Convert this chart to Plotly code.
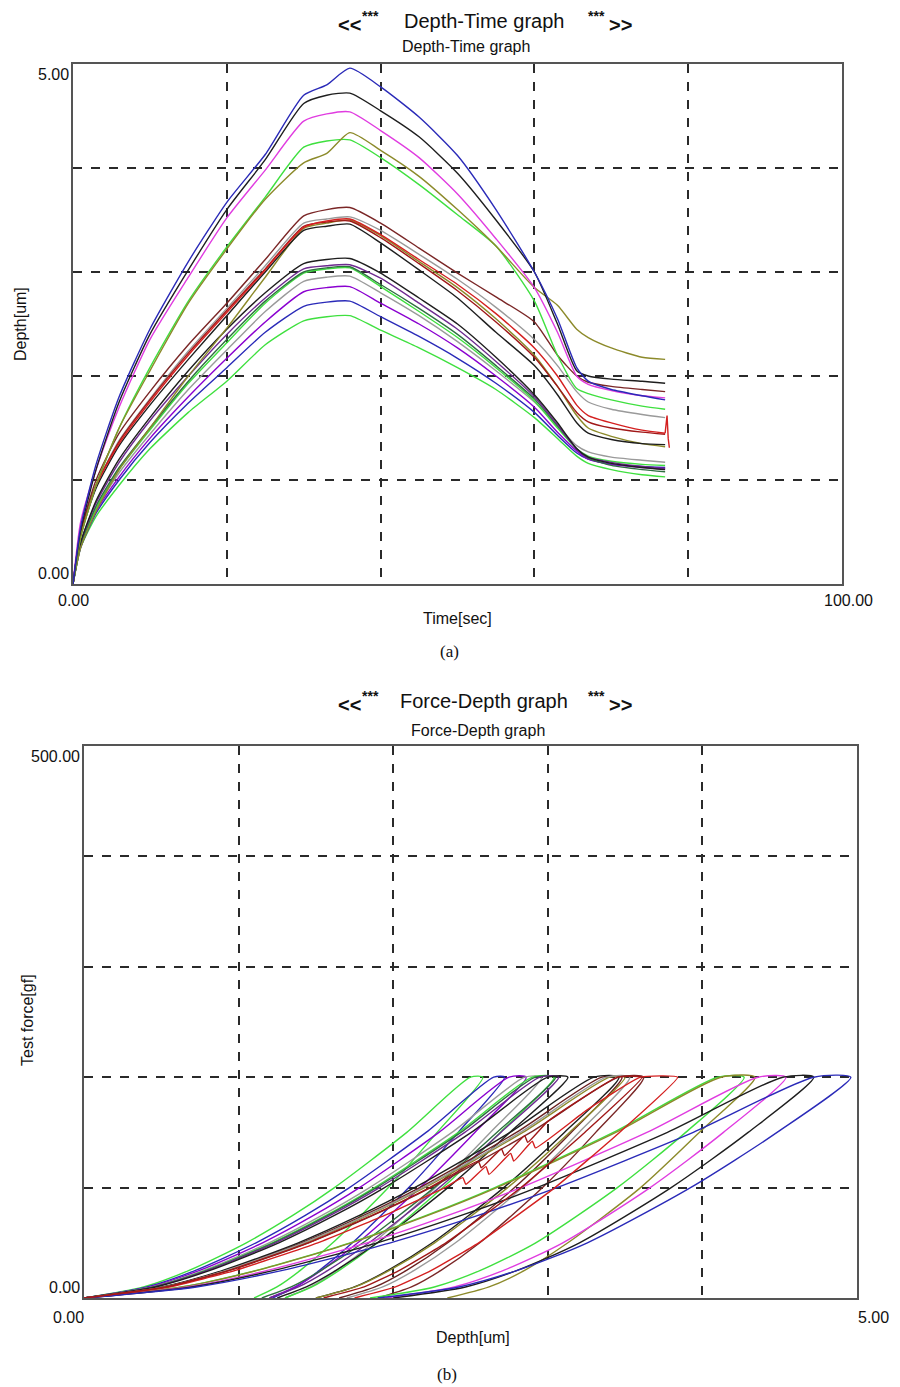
import plotly.graph_objects as go

W, H = 900, 1387

# ---------------- Panel (a): Depth-Time ----------------
TIME_A = [0, 1, 3, 6, 10, 15, 20, 25, 30, 33, 36, 40, 45, 50, 55, 60, 63, 65.5, 67, 70, 74, 77]

a_blue = [0, 0.55, 1.15, 1.8, 2.45, 3.1, 3.67, 4.13, 4.7, 4.8, 4.96, 4.78, 4.49, 4.12, 3.6, 3.0, 2.55, 2.08, 1.95, 1.87, 1.81, 1.77]
a_black = [0, 0.52, 1.1, 1.75, 2.4, 3.02, 3.6, 4.08, 4.62, 4.7, 4.72, 4.55, 4.3, 3.95, 3.5, 3.0, 2.5, 2.05, 2.0, 1.97, 1.95, 1.93]
a_magenta = [0, 0.6, 1.1, 1.7, 2.35, 2.95, 3.52, 3.98, 4.45, 4.52, 4.54, 4.36, 4.1, 3.75, 3.32, 2.85, 2.42, 2.0, 1.92, 1.86, 1.81, 1.79]
a_olive = [0, 0.45, 0.95, 1.5, 2.05, 2.7, 3.22, 3.7, 4.05, 4.14, 4.34, 4.17, 3.92, 3.6, 3.25, 2.85, 2.68, 2.45, 2.37, 2.27, 2.18, 2.16]
a_green = [0, 0.45, 0.95, 1.5, 2.08, 2.72, 3.24, 3.72, 4.2, 4.26, 4.27, 4.1, 3.84, 3.55, 3.25, 2.72, 2.2, 1.88, 1.83, 1.77, 1.71, 1.68]
a_brown = [0, 0.5, 1.0, 1.45, 1.85, 2.3, 2.7, 3.12, 3.54, 3.6, 3.62, 3.47, 3.23, 2.99, 2.76, 2.52, 2.2, 2.0, 1.94, 1.9, 1.87, 1.85]
a_red = [0, 0.5, 0.95, 1.35, 1.75, 2.2, 2.61, 3.02, 3.43, 3.49, 3.51, 3.36, 3.12, 2.88, 2.6, 2.27, 2.0, 1.72, 1.62, 1.55, 1.48, 1.45]
a_darkred = [0, 0.5, 0.95, 1.37, 1.77, 2.22, 2.63, 3.03, 3.44, 3.48, 3.49, 3.33, 3.08, 2.82, 2.52, 2.18, 1.9, 1.65, 1.56, 1.5, 1.46, 1.44]
a_gray = [0, 0.48, 0.95, 1.38, 1.78, 2.24, 2.65, 3.06, 3.47, 3.51, 3.53, 3.4, 3.17, 2.93, 2.66, 2.35, 2.1, 1.85, 1.75, 1.68, 1.63, 1.6]
a_black2 = [0, 0.47, 0.92, 1.33, 1.72, 2.16, 2.58, 3.0, 3.4, 3.44, 3.46, 3.28, 3.02, 2.75, 2.42, 2.1, 1.82, 1.55, 1.45, 1.39, 1.35, 1.34]
a_olive2 = [0, 0.35, 0.7, 1.1, 1.5, 2.0, 2.46, 2.95, 3.42, 3.47, 3.5, 3.35, 3.1, 2.85, 2.55, 2.2, 1.9, 1.62, 1.5, 1.42, 1.35, 1.32]
a_black3 = [0, 0.4, 0.8, 1.2, 1.6, 2.05, 2.45, 2.8, 3.08, 3.12, 3.13, 2.99, 2.75, 2.5, 2.18, 1.82, 1.55, 1.3, 1.22, 1.16, 1.12, 1.10]
a_purple_dk = [0, 0.4, 0.78, 1.17, 1.57, 2.0, 2.4, 2.75, 3.03, 3.06, 3.07, 2.94, 2.7, 2.45, 2.14, 1.8, 1.53, 1.3, 1.22, 1.17, 1.13, 1.11]
a_green_dk = [0, 0.38, 0.75, 1.12, 1.5, 1.95, 2.35, 2.72, 3.0, 3.04, 3.05, 2.88, 2.65, 2.4, 2.1, 1.78, 1.52, 1.3, 1.21, 1.14, 1.1, 1.08]
a_green3 = [0, 0.37, 0.73, 1.1, 1.48, 1.93, 2.32, 2.7, 2.99, 3.03, 3.04, 2.86, 2.62, 2.37, 2.08, 1.76, 1.5, 1.3, 1.23, 1.18, 1.15, 1.14]
a_gray3 = [0, 0.37, 0.72, 1.07, 1.44, 1.87, 2.25, 2.62, 2.91, 2.95, 2.96, 2.8, 2.58, 2.33, 2.05, 1.75, 1.52, 1.33, 1.27, 1.22, 1.19, 1.17]
a_violet = [0, 0.36, 0.7, 1.03, 1.4, 1.8, 2.17, 2.52, 2.81, 2.85, 2.86, 2.7, 2.5, 2.27, 2.0, 1.7, 1.46, 1.28, 1.2, 1.15, 1.12, 1.11]
a_blue3 = [0, 0.35, 0.68, 1.0, 1.36, 1.74, 2.08, 2.42, 2.67, 2.71, 2.72, 2.57, 2.38, 2.17, 1.93, 1.65, 1.43, 1.26, 1.2, 1.15, 1.13, 1.12]
a_green_low = [0, 0.35, 0.65, 0.95, 1.3, 1.65, 1.95, 2.3, 2.53, 2.57, 2.58, 2.44, 2.27, 2.08, 1.87, 1.6, 1.4, 1.23, 1.16, 1.1, 1.05, 1.03]

# red end spike
a_red_tail_t = [77, 77.25, 77.4, 77.55]
a_red_tail_d = [1.45, 1.62, 1.4, 1.31]

# ---------------- Panel (b): Force-Depth ----------------
LOAD_F = [0, 10, 25, 50, 75, 100, 150, 200]
UNLOAD_F = [200, 150, 100, 50, 25, 10, 0]

b_blue_load = [0, 0.727, 1.284, 1.982, 2.554, 3.059, 3.941, 4.72]
b_blue_unload = [4.96, 4.483, 3.923, 3.256, 2.803, 2.426, 1.9]
b_black_load = [0, 0.696, 1.229, 1.898, 2.445, 2.929, 3.774, 4.52]
b_black_unload = [4.72, 4.296, 3.798, 3.205, 2.802, 2.468, 2.0]
b_magenta_load = [0, 0.671, 1.186, 1.831, 2.359, 2.825, 3.641, 4.36]
b_magenta_unload = [4.54, 4.136, 3.662, 3.097, 2.714, 2.395, 1.95]
b_olive_load = [0, 0.634, 1.121, 1.73, 2.229, 2.67, 3.44, 4.12]
b_olive_unload = [4.34, 3.98, 3.6, 3.13, 2.85, 2.62, 2.35]
b_green_load = [0, 0.631, 1.115, 1.722, 2.218, 2.657, 3.424, 4.1]
b_green_unload = [4.27, 3.892, 3.45, 2.922, 2.564, 2.266, 1.85]
b_brown_load = [0, 0.533, 0.941, 1.453, 1.872, 2.242, 2.889, 3.46]
b_brown_unload = [3.62, 3.31, 2.966, 2.56, 2.309, 2.118, 1.9]
b_gray_load = [0, 0.521, 0.919, 1.42, 1.829, 2.19, 2.822, 3.38]
b_gray_unload = [3.53, 3.201, 2.835, 2.403, 2.136, 1.932, 1.7]
b_olive2_load = [0, 0.524, 0.925, 1.428, 1.839, 2.203, 2.839, 3.4]
b_olive2_unload = [3.5, 3.14, 2.74, 2.268, 1.976, 1.754, 1.5]
b_black2_load = [0, 0.508, 0.898, 1.386, 1.785, 2.138, 2.756, 3.3]
b_black2_unload = [3.46, 3.107, 2.715, 2.253, 1.966, 1.749, 1.5]
b_maroon_load = [0, 0.516, 0.911, 1.407, 1.812, 2.171, 2.797, 3.35]
b_maroon_unload = [3.48, 3.151, 2.785, 2.353, 2.086, 1.882, 1.65]
b_black3_load = [0, 0.462, 0.816, 1.26, 1.623, 1.944, 2.505, 3.0]
b_black3_unload = [3.13, 2.754, 2.354, 1.897, 1.63, 1.438, 1.25]
b_purple_dk_load = [0, 0.454, 0.802, 1.239, 1.596, 1.912, 2.463, 2.95]
b_purple_dk_unload = [3.07, 2.696, 2.298, 1.843, 1.578, 1.387, 1.2]
b_green_dk_load = [0, 0.45, 0.794, 1.226, 1.58, 1.892, 2.438, 2.92]
b_green_dk_unload = [3.05, 2.67, 2.265, 1.804, 1.534, 1.34, 1.15]
b_green3_load = [0, 0.447, 0.789, 1.218, 1.569, 1.879, 2.422, 2.9]
b_green3_unload = [3.04, 2.692, 2.321, 1.899, 1.651, 1.474, 1.3]
b_gray3_load = [0, 0.439, 0.775, 1.197, 1.542, 1.847, 2.38, 2.85]
b_gray3_unload = [2.96, 2.628, 2.274, 1.871, 1.635, 1.466, 1.3]
b_violet_load = [0, 0.424, 0.748, 1.155, 1.488, 1.782, 2.296, 2.75]
b_violet_unload = [2.86, 2.528, 2.174, 1.771, 1.535, 1.366, 1.2]
b_blue3_load = [0, 0.408, 0.721, 1.113, 1.434, 1.717, 2.213, 2.65]
b_blue3_unload = [2.72, 2.42, 2.101, 1.736, 1.523, 1.37, 1.22]
b_green_low_load = [0, 0.385, 0.68, 1.05, 1.353, 1.62, 2.088, 2.5]
b_green_low_unload = [2.58, 2.284, 1.969, 1.609, 1.399, 1.248, 1.1]

# red curves with saw-tooth loading
b_red_load_h = [0, 0.554, 0.979, 1.512, 1.948, 2.333, 2.45, 2.47, 2.6, 2.62, 2.76, 2.78, 2.9, 2.92, 3.25, 3.6]
b_red_load_f = [0, 10, 25, 50, 75, 100, 109, 103, 119, 112, 131, 124, 142, 136, 170, 200]
b_red_unload = [3.84, 3.464, 3.046, 2.553, 2.247, 2.015, 1.75]
b_red2_load_h = [0, 0.531, 0.938, 1.449, 1.866, 2.236, 2.55, 2.57, 2.7, 2.72, 2.85, 2.87, 3.0, 3.45]
b_red2_load_f = [0, 10, 25, 50, 75, 100, 124, 118, 135, 129, 147, 141, 160, 200]
b_red2_unload = [3.61, 3.239, 2.827, 2.341, 2.04, 1.812, 1.55]

# ---------------- colours ----------------
C = {
    "blue": "#2a2ab8", "black": "#1e1e1e", "magenta": "#e03ce0", "olive": "#8c8a2a",
    "green": "#3fe03f", "brown": "#7a2626", "red": "#d42020", "darkred": "#a01818",
    "gray": "#9a9a9a", "green_dk": "#2f7040", "purple_dk": "#6e2a90", "violet": "#8a00d0",
    "maroon": "#6a2020",
}

fig = go.Figure()

a_series = [
    (a_green_low, C["green"]), (a_blue3, C["blue"]), (a_violet, C["violet"]), (a_gray3, C["gray"]),
    (a_green3, C["green"]), (a_green_dk, C["green_dk"]), (a_purple_dk, C["purple_dk"]), (a_black3, C["black"]),
    (a_olive2, C["olive"]), (a_black2, C["black"]), (a_gray, C["gray"]), (a_darkred, C["darkred"]),
    (a_red, C["red"]), (a_brown, C["brown"]),
    (a_green, C["green"]), (a_olive, C["olive"]), (a_magenta, C["magenta"]), (a_black, C["black"]), (a_blue, C["blue"]),
]
for d, col in a_series:
    fig.add_trace(go.Scatter(x=TIME_A, y=d, mode="lines", xaxis="x", yaxis="y",
                             line=dict(color=col, width=1.4, shape="spline", smoothing=0.6),
                             hoverinfo="skip", showlegend=False))
fig.add_trace(go.Scatter(x=a_red_tail_t, y=a_red_tail_d, mode="lines", xaxis="x", yaxis="y",
                         line=dict(color=C["red"], width=1.4), hoverinfo="skip", showlegend=False))

b_series = [
    (b_green_low_load, b_green_low_unload, C["green"]),
    (b_blue3_load, b_blue3_unload, C["blue"]),
    (b_violet_load, b_violet_unload, C["violet"]),
    (b_gray3_load, b_gray3_unload, C["gray"]),
    (b_green3_load, b_green3_unload, C["green"]),
    (b_green_dk_load, b_green_dk_unload, C["green_dk"]),
    (b_purple_dk_load, b_purple_dk_unload, C["purple_dk"]),
    (b_black3_load, b_black3_unload, C["black"]),
    (b_maroon_load, b_maroon_unload, C["maroon"]),
    (b_black2_load, b_black2_unload, C["black"]),
    (b_olive2_load, b_olive2_unload, C["olive"]),
    (b_gray_load, b_gray_unload, C["gray"]),
    (b_brown_load, b_brown_unload, C["brown"]),
    (b_green_load, b_green_unload, C["green"]),
    (b_olive_load, b_olive_unload, C["olive"]),
    (b_magenta_load, b_magenta_unload, C["magenta"]),
    (b_black_load, b_black_unload, C["black"]),
    (b_blue_load, b_blue_unload, C["blue"]),
]
for ld, ud, col in b_series:
    fig.add_trace(go.Scatter(x=ld + ud, y=LOAD_F + UNLOAD_F, mode="lines", xaxis="x2", yaxis="y2",
                             line=dict(color=col, width=1.4, shape="spline", smoothing=0.7),
                             hoverinfo="skip", showlegend=False))
for lh, lf, ud, col in [(b_red_load_h, b_red_load_f, b_red_unload, C["red"]),
                        (b_red2_load_h, b_red2_load_f, b_red2_unload, C["darkred"])]:
    fig.add_trace(go.Scatter(x=lh + ud, y=lf + UNLOAD_F, mode="lines", xaxis="x2", yaxis="y2",
                             line=dict(color=col, width=1.4, shape="spline", smoothing=0.4),
                             hoverinfo="skip", showlegend=False))

axis_common = dict(showline=True, mirror=True, linecolor="#555555", linewidth=1.6,
                   showgrid=True, gridcolor="#2a2a2a", gridwidth=1.6, griddash="dash",
                   zeroline=False, ticks="", showticklabels=False, fixedrange=True)

fig.update_layout(
    width=W, height=H, margin=dict(l=0, r=0, t=0, b=0),
    paper_bgcolor="white", plot_bgcolor="white",
    font=dict(family="Liberation Sans, Arial, sans-serif", color="#111111", size=16),
    xaxis=dict(domain=[73 / W, 842 / W], range=[0, 100], tickvals=[0, 20, 40, 60, 80, 100], anchor="y", **axis_common),
    yaxis=dict(domain=[1 - 584 / H, 1 - 64 / H], range=[0, 5], tickvals=[0, 1, 2, 3, 4, 5], anchor="x", **axis_common),
    xaxis2=dict(domain=[84 / W, 857 / W], range=[0, 5], tickvals=[0, 1, 2, 3, 4, 5], anchor="y2", **axis_common),
    yaxis2=dict(domain=[1 - 1298 / H, 1 - 746 / H], range=[0, 500], tickvals=[0, 100, 200, 300, 400, 500], anchor="x2", **axis_common),
)

SANS = "Liberation Sans, Arial, sans-serif"
SERIF = "Liberation Serif, DejaVu Serif, serif"
ann = []


def ptext(x, y, text, size, family=SANS, xanchor="center", angle=0):
    return dict(xref="paper", yref="paper", x=x / W, y=1 - y / H, text=text, textangle=angle,
                xanchor=xanchor, yanchor="middle", showarrow=False,
                font=dict(size=size, family=family, color="#111111"))


# titles: "<<***   name   ***>>" and subtitle
for yc, ysub, name, xsub in [(21, 46, "Depth-Time graph", 466), (701, 730, "Force-Depth graph", 478)]:
    ann.append(ptext(349, yc + 4, "<b>&lt;&lt;</b>", 20))
    ann.append(ptext(370, yc - 5, "<b>***</b>", 14))
    ann.append(ptext(484, yc, name, 20))
    ann.append(ptext(596, yc - 5, "<b>***</b>", 14))
    ann.append(ptext(620, yc + 4, "<b>&gt;&gt;</b>", 20))
    ann.append(ptext(xsub, ysub, name, 16))
# axis titles
ann += [
    ptext(20, 324, "Depth[um]", 16, angle=-90),
    ptext(458, 618, "Time[sec]", 16),
    ptext(27, 1020, "Test force[gf]", 16, angle=-90),
    ptext(473, 1337, "Depth[um]", 16),
]
# captions
ann += [
    ptext(449, 651, "(a)", 17, family=SERIF),
    ptext(447, 1374, "(b)", 17, family=SERIF),
]
# tick labels (placed through the axes)
TF = dict(size=16, family=SANS, color="#111111")
ann += [
    dict(xref="x", yref="y", x=0, y=5, text="5.00", xanchor="right", yanchor="top", xshift=-2, showarrow=False, font=TF),
    dict(xref="x", yref="y", x=0, y=0, text="0.00", xanchor="right", yanchor="bottom", xshift=-2, showarrow=False, font=TF),
    dict(xref="x", yref="y", x=0, y=0, text="0.00", xanchor="center", yanchor="top", yshift=-6, showarrow=False, font=TF),
    dict(xref="x", yref="y", x=100, y=0, text="100.00", xanchor="center", yanchor="top", xshift=6, yshift=-6, showarrow=False, font=TF),
    dict(xref="x2", yref="y2", x=0, y=500, text="500.00", xanchor="right", yanchor="top", xshift=-2, showarrow=False, font=TF),
    dict(xref="x2", yref="y2", x=0, y=0, text="0.00", xanchor="right", yanchor="bottom", xshift=-2, showarrow=False, font=TF),
    dict(xref="x2", yref="y2", x=0, y=0, text="0.00", xanchor="center", yanchor="top", xshift=-16, yshift=-9, showarrow=False, font=TF),
    dict(xref="x2", yref="y2", x=5, y=0, text="5.00", xanchor="center", yanchor="top", xshift=16, yshift=-9, showarrow=False, font=TF),
]
fig.update_layout(annotations=ann)

fig.write_html("out.html", config={"displayModeBar": False},
               post_script="document.body.style.margin='0';document.body.style.overflow='hidden';")
